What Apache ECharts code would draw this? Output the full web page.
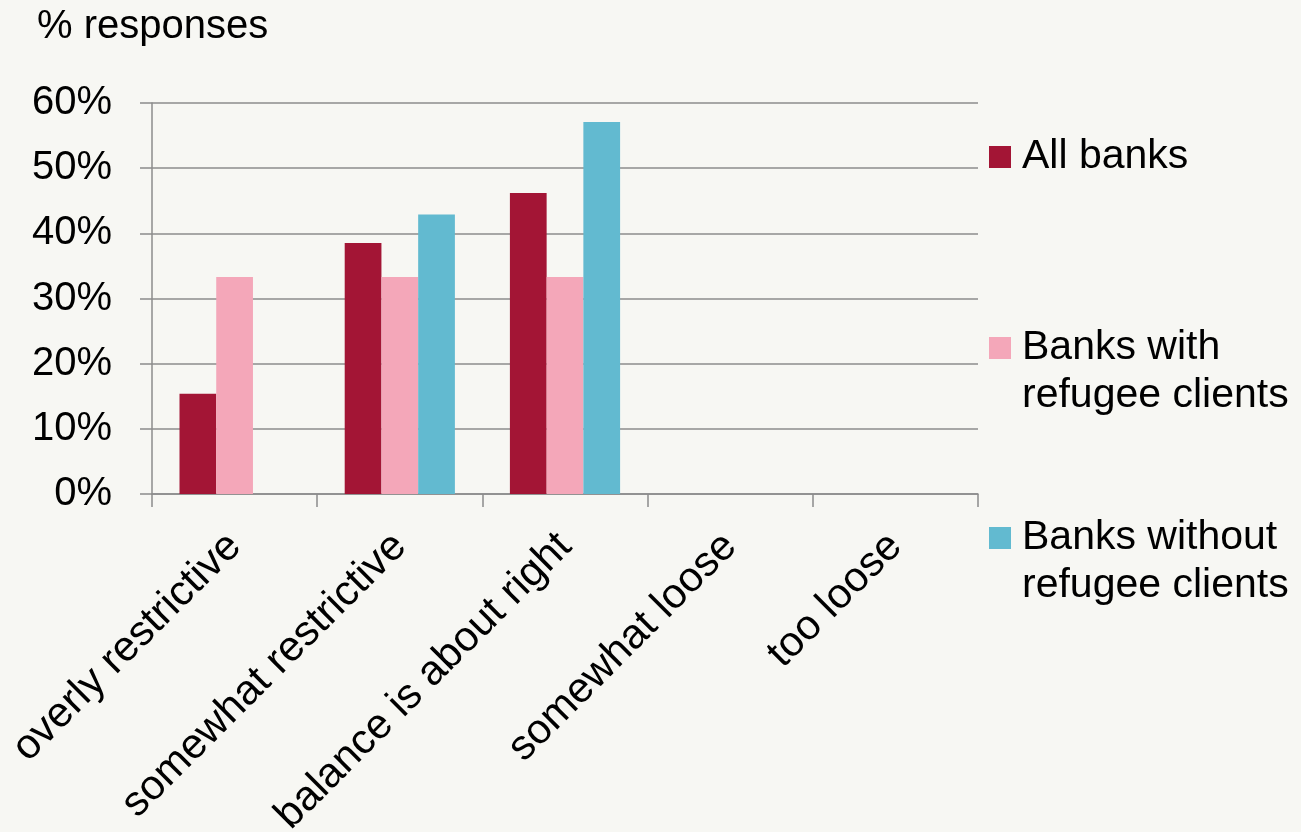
<!DOCTYPE html>
<html>
<head>
<meta charset="utf-8">
<script src="https://cdn.jsdelivr.net/npm/echarts@6/dist/echarts.min.js"></script>
<style>
  html, body { margin: 0; padding: 0; background: #F7F7F3; }
  #chart { width: 1301px; height: 832px; }
</style>
</head>
<body>
<div id="chart"></div>
<script>
// Survey answers: how restrictive is the regulation, share of responses (%)
const categories = ['overly restrictive', 'somewhat restrictive', 'balance is about right', 'somewhat loose', 'too loose'];
const allBanks = [15.4, 38.5, 46.2, 0, 0];
const withRefugeeClients = [33.3, 33.3, 33.3, 0, 0];
const withoutRefugeeClients = [0, 42.9, 57.1, 0, 0];
const yTicks = { min: 0, max: 60, step: 10 };

const seriesNames = ['All banks', 'Banks with\nrefugee clients', 'Banks without\nrefugee clients'];
const colors = ['#A31535', '#F4A7B9', '#62BAD0'];

const FONT = '"Liberation Sans", Arial, sans-serif';
const axisGray = '#8c8c8c';

const chart = echarts.init(document.getElementById('chart'), null, { renderer: 'canvas' });

// One legend per series so each entry can sit at its own height.
// Two-line names get a blank first line so the swatch lines up with the first text line.
function legendFor(i, top) {
  const twoLines = seriesNames[i].indexOf('\n') >= 0;
  return {
    data: [seriesNames[i]],
    left: 989,
    top: top,
    padding: 0,
    itemWidth: 22,
    itemHeight: 22,
    icon: 'rect',
    selectedMode: false,
    formatter: name => (twoLines ? ' \n' + name : name),
    textStyle: {
      fontFamily: FONT,
      fontSize: 41,
      color: '#000',
      lineHeight: 48,
      padding: [0, 0, 0, 6]
    }
  };
}

chart.setOption({
  backgroundColor: '#F7F7F3',
  animation: false,
  color: colors,
  title: {
    text: '% responses',
    left: 37,
    top: 7,
    padding: 0,
    textStyle: { fontFamily: FONT, fontSize: 40, fontWeight: 'normal', color: '#000' }
  },
  legend: [
    legendFor(0, 133),
    legendFor(1, 276),
    legendFor(2, 466)
  ],
  // fixed plot rectangle; long rotated labels may run to the bottom edge
  grid: { left: 152, right: 323, top: 103, bottom: 338, containLabel: false, outerBoundsMode: 'none' },
  xAxis: {
    type: 'category',
    data: categories,
    axisLine: { show: true, lineStyle: { color: axisGray, width: 1.5 } },
    axisTick: { show: true, length: 13, alignWithLabel: false, lineStyle: { color: axisGray, width: 1.5 } },
    axisLabel: {
      rotate: 45,
      margin: 46,
      interval: 0,
      fontFamily: FONT,
      fontSize: 42,
      color: '#000'
    }
  },
  yAxis: {
    type: 'value',
    min: yTicks.min,
    max: yTicks.max,
    interval: yTicks.step,
    axisLine: { show: true, lineStyle: { color: axisGray, width: 1.5 } },
    axisTick: { show: true, length: 12, lineStyle: { color: axisGray, width: 1.5 } },
    splitLine: { show: true, lineStyle: { color: axisGray, width: 1.5 } },
    axisLabel: {
      margin: 40,
      fontFamily: FONT,
      fontSize: 40,
      color: '#000',
      formatter: v => v + '%'
    }
  },
  series: [
    { name: seriesNames[0], type: 'bar', data: allBanks, barGap: '0%', barCategoryGap: '33.3%' },
    { name: seriesNames[1], type: 'bar', data: withRefugeeClients, barGap: '0%', barCategoryGap: '33.3%' },
    { name: seriesNames[2], type: 'bar', data: withoutRefugeeClients, barGap: '0%', barCategoryGap: '33.3%' }
  ]
});
</script>
</body>
</html>
